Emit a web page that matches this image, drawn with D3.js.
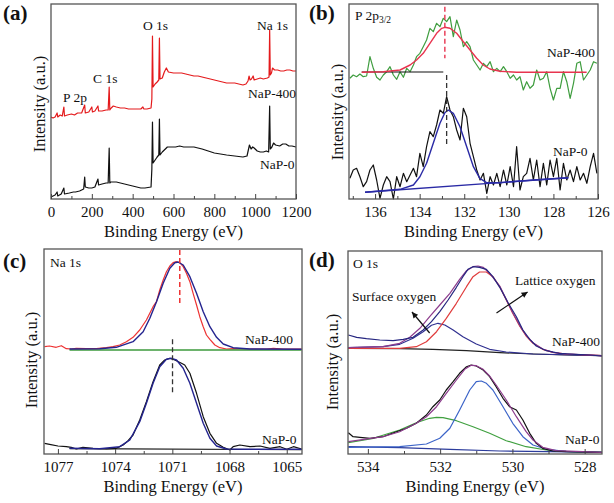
<!DOCTYPE html>
<html><head><meta charset="utf-8">
<script src="https://cdn.jsdelivr.net/npm/d3@7"></script>
<style>
body{margin:0;background:#fff}
text{font-family:"Liberation Serif","Times New Roman",serif;fill:#111}
</style>
</head><body>
<script>
// ---------- (a) survey ----------
var surveyTicks = [0, 200, 400, 600, 800, 1000, 1200];
var surveyNaP400 = [[0,82],[10,81],[20,82],[30,86],[33,82],[45,84],[55,83],[63,92],[66,83],[80,84],[100,85],[115,84],[130,86],[150,86],[165,94],[168,86],[185,87],[200,92],[203,87],[215,88],[230,93],[233,88],[250,88],[270,89],[280,89],[285,112],[288,89],[295,91],[305,93],[320,92],[340,91],[360,91],[380,90],[400,90],[420,90],[440,90],[450,92],[455,90],[470,90],[490,91],[494,100],[497,163],[500,112],[510,115],[520,117],[528,119],[531,161],[534,120],[545,121],[555,127],[565,131],[575,127],[600,126],[620,126],[640,126],[660,125],[680,124],[700,123],[720,123],[740,122],[760,121],[780,120],[800,119],[820,118],[840,117],[860,116],[880,116],[900,116],[920,115],[940,114],[955,115],[965,118],[970,123],[975,119],[982,120],[990,123],[995,119],[1010,120],[1025,121],[1040,120],[1060,121],[1068,122],[1071,169],[1074,124],[1080,126],[1085,131],[1095,129],[1110,129],[1125,128],[1140,128],[1155,129],[1170,129],[1185,128],[1200,128]];
var surveyNaP0 = [[0,2],[10,3],[20,4],[30,7],[33,3],[50,5],[63,11],[66,5],[90,6],[110,7],[120,7],[140,8],[160,10],[165,22],[168,12],[185,11],[200,11],[215,12],[230,20],[233,14],[250,15],[270,16],[280,16],[285,51],[288,16],[292,17],[305,17],[320,17],[340,16],[360,15],[380,14],[400,13],[420,12],[440,11],[460,11],[490,12],[494,30],[497,77],[500,36],[510,39],[520,42],[528,44],[531,80],[534,44],[545,47],[555,49],[570,52],[590,52],[610,52],[630,53],[650,52],[670,52],[690,52],[700,52],[720,51],[740,50],[770,48],[800,46],[830,45],[860,44],[900,43],[940,42],[960,43],[972,54],[980,50],[988,52],[995,51],[1010,48],[1025,47],[1040,47],[1055,48],[1066,47],[1071,93],[1074,50],[1082,52],[1090,56],[1100,54],[1120,53],[1135,55],[1150,55],[1165,53],[1180,53],[1200,52]];

// ---------- (b) P 2p3/2 ----------
var p2pTicks = [136, 134, 132, 130, 128, 126];
var p2pEnergy = [137.13,136.98,136.83,136.68,136.53,136.38,136.23,136.08,135.93,135.78,
  135.63,135.48,135.33,135.18,135.03,134.88,134.73,134.58,134.43,134.28,
  134.14,133.99,133.84,133.69,133.54,133.39,133.24,133.09,132.94,132.79,
  132.64,132.49,132.34,132.19,132.04,131.89,131.74,131.59,131.44,131.29,
  131.14,130.99,130.84,130.69,130.54,130.39,130.24,130.09,129.94,129.79,
  129.65,129.50,129.35,129.20,129.05,128.90,128.75,128.60,128.45,128.30,
  128.15,128.00,127.85,127.70,127.55,127.40,127.25,127.10,126.95,126.80,
  126.65,126.50,126.35,126.20,126.05];
var p2pNaP400 = [120.7,124,122.3,125,122.3,123,142.3,130.7,121.7,119,
  124,127.3,132.3,124,119.7,127.3,121.7,130.7,127.3,134,
  142.3,145.7,152.3,159,170.7,167.3,175.7,172.3,180.7,177.3,
  182.3,162.3,179,169,152.3,157.3,152.3,139,134,129,
  135.7,132.3,137.3,127.3,130.7,127.3,132.3,127.3,120.7,124,
  119,122.3,109,117.3,110.7,114,129,119,120.7,127.3,
  110.7,99,110.7,110.7,127.3,117.3,100.7,115.7,135.7,137.3,
  119,124,129,137.3,135.7];
var p2pNaP0 = [20.7,29,30.7,22.3,12.3,17.3,29,34,19,0.7,
  14,22.3,17.3,0,22.3,12.3,25.7,17.3,24,30.7,
  22.3,45.7,32.3,52.3,67.3,62.3,74,89,85.7,102.3,
  89,82.3,69,59,90.7,82.3,55.7,42.3,29,19,
  25.7,5.7,22.3,14,25.7,12.3,29,14,32.3,12.3,
  52.3,9,22.3,25.7,40.7,19,39,12.3,35.7,14,
  39,22.3,40.7,9,35.7,19,29,17.3,32.3,19,
  25.7,15.7,32.3,45.7,25.7];
var p2pFit400 = [[136.60,126.7],[135.63,127.3],[134.88,129],[134.43,134],[134.14,139],[133.84,145.7],[133.54,155.7],[133.24,165.7],[133.01,170.7],[132.87,171.7],[132.64,170.7],[132.34,165.7],[132.04,157.3],[131.74,149],[131.44,140.7],[131.15,134],[130.85,130],[130.40,127.7],[129.65,126.7],[126.51,126.7]];
var p2pBg400 = [[136.60,127],[132.94,127]];
var p2pFit0 = [[136.45,6.7],[134.88,9.7],[134.28,14],[133.99,22.3],[133.69,35.7],[133.39,55.7],[133.09,75.7],[132.87,86.3],[132.72,89],[132.49,85.7],[132.19,72.3],[131.89,52.3],[131.59,32.3],[131.30,20.7],[131.00,16.3],[130.40,16.3],[128.90,19],[127.33,21.3]];
var p2pBg0 = [[136.45,6.7],[127.33,21.3]];

// ---------- (c) Na 1s ----------
var na1sTicks = [1077, 1074, 1071, 1068, 1065];
var na1sNaP400 = [[1077.70,107.3],[1077.44,108],[1077.09,106.7],[1076.82,108.3],[1076.56,105.3],[1076.30,105],[1076.04,105.7],[1075.51,105.3],[1074.99,105.3],[1074.46,106.3],[1074.11,107.3],[1073.76,109],[1073.41,112.3],[1073.06,116.7],[1072.71,124],[1072.36,134],[1072.01,147.3],[1071.83,152.3],[1071.66,164],[1071.48,174],[1071.31,182.3],[1071.13,188],[1070.96,191.3],[1070.78,192.3],[1070.61,191.3],[1070.43,187.3],[1070.26,180.7],[1070.08,172.3],[1069.91,160.7],[1069.73,149],[1069.56,137.3],[1069.38,127.3],[1069.21,119],[1069.03,114.7],[1068.77,109],[1068.51,106.3],[1068.16,105],[1067.81,105.3],[1066.93,105],[1066.05,105],[1065.70,105.7],[1065.18,105],[1064.22,105]];
var na1sFit400 = [[1076.39,105],[1074.81,105.3],[1073.94,106.7],[1073.06,112.3],[1072.53,122.3],[1072.18,135.7],[1071.83,152.3],[1071.48,170.7],[1071.13,185.7],[1070.87,191.3],[1070.70,192],[1070.43,189],[1070.08,177.3],[1069.73,160.7],[1069.38,142.3],[1069.03,127.3],[1068.68,116.7],[1068.33,110],[1067.81,106.3],[1066.93,105],[1064.22,104.7]];
var na1sBg400 = [[1076.39,104],[1064.22,104]];
var na1sNaP0 = [[1077.70,10.7],[1077.44,9.7],[1077.00,8],[1076.56,7.3],[1076.30,6.7],[1076.04,5],[1075.69,6.7],[1075.16,5.7],[1074.46,5],[1073.94,5.7],[1073.58,9],[1073.32,13.3],[1073.06,19],[1072.71,34],[1072.36,52.3],[1072.01,72.3],[1071.66,89],[1071.40,94],[1071.13,95.7],[1070.87,94],[1070.52,90.7],[1070.35,89],[1070.08,80.7],[1069.73,60.7],[1069.38,37.3],[1069.03,20.7],[1068.68,10.7],[1068.33,6.7],[1067.98,4],[1067.81,7.3],[1067.46,9],[1066.93,7.3],[1066.40,8],[1065.88,5.7],[1065.35,7.3],[1065.00,4.7],[1064.65,7.3],[1064.22,5]];
var na1sFit0 = [[1076.39,5.7],[1074.81,5.3],[1073.76,7.3],[1073.23,14],[1072.71,32.3],[1072.36,50.7],[1072.01,70.7],[1071.66,87.3],[1071.31,94.7],[1071.05,95.7],[1070.78,94],[1070.43,85.7],[1070.08,70.7],[1069.73,50.7],[1069.38,30.7],[1069.03,15.7],[1068.68,8],[1068.16,5],[1066.93,4.7],[1064.22,4.7]];
var na1sBg0 = [[1076.39,5.3],[1064.22,4.3]];

// ---------- (d) O 1s ----------
var o1sTicks = [534, 532, 530, 528];
var o1sNaP400 = [[534.54,119],[534.31,116.7],[534.04,115.3],[533.67,114],[533.30,113.3],[533.02,114.7],[532.75,116.7],[532.47,124],[532.24,132.3],[532.01,142.3],[531.78,154],[531.55,166.7],[531.37,177.3],[531.23,184.7],[531.09,187.3],[530.91,186.7],[530.72,184.7],[530.54,177.3],[530.35,166.7],[530.12,151.3],[529.89,137.3],[529.71,124],[529.52,114.7],[529.34,108],[529.06,103.3],[528.70,100.7],[528.24,99.7],[527.87,99],[527.52,98]];
var o1sEnv400 = [[534.54,106.3],[533.58,107.3],[533.12,110.7],[532.84,116.7],[532.56,125.7],[532.29,137.3],[532.01,149],[531.73,160.7],[531.46,174.7],[531.27,183.3],[531.09,187.3],[530.95,188],[530.81,186.7],[530.63,180.7],[530.35,168],[530.17,154.7],[529.99,141.3],[529.80,128.7],[529.62,118.7],[529.43,111.3],[529.16,105],[528.88,101.7],[528.51,100],[527.52,98.3]];
var o1sLat400 = [[534.54,105.7],[533.12,105.7],[532.66,107.3],[532.38,112.3],[532.10,122.3],[531.83,135.7],[531.55,150.7],[531.27,167.3],[531.09,177.3],[530.91,182],[530.72,182],[530.54,177.3],[530.35,167.3],[530.17,154],[529.99,140.7],[529.80,128],[529.62,118],[529.43,110.7],[529.16,104.7],[528.88,101.7],[528.51,100],[527.52,98.3]];
var o1sSurf400 = [[534.54,106.3],[533.58,107.3],[533.12,109.7],[532.75,115.7],[532.47,122.3],[532.24,128.7],[532.06,130.7],[531.87,129],[531.64,124],[531.37,117.3],[531.00,110],[530.63,104.7],[530.17,102],[529.43,100],[527.52,98.3]];
var o1sBg400 = [[534.54,105.7],[533.12,105.3],[532.20,104.7],[531.27,103.3],[530.35,101.3],[529.43,100],[528.51,99],[527.52,98.3]];
var o1sNaP0 = [[534.54,21.3],[534.41,17.3],[534.22,16.7],[533.94,15.7],[533.58,17.3],[533.21,22.3],[532.93,25.7],[532.66,30.7],[532.38,39],[532.20,47.3],[532.01,54],[531.83,64],[531.64,72.3],[531.46,80.7],[531.27,87.3],[531.14,89],[531.00,88],[530.81,84],[530.63,77.3],[530.45,67.3],[530.26,55.7],[530.08,47.3],[529.89,44],[529.71,34],[529.52,20.7],[529.34,10.7],[529.16,5.7],[528.88,3],[528.51,2.3],[527.52,1.7]];
var o1sEnv0 = [[534.54,12.3],[533.58,17.3],[533.12,22.3],[532.66,30.7],[532.38,37.3],[532.10,47.3],[531.83,60.7],[531.55,74],[531.32,84.7],[531.14,88.7],[531.00,88.3],[530.81,84.7],[530.63,78],[530.45,69],[530.17,54],[529.89,37.3],[529.62,22.3],[529.43,14],[529.16,6.7],[528.79,3.3],[527.52,1.7]];
var o1sSurf0 = [[534.54,11.3],[533.85,15.7],[533.12,24],[532.66,31.3],[532.29,35.7],[532.10,36.7],[531.92,36.3],[531.55,33.3],[531.09,27.3],[530.63,20.7],[530.17,13.3],[529.62,7.3],[529.06,4],[528.51,2.7],[527.52,1.7]];
var o1sLat0 = [[534.54,6.7],[533.12,7.3],[532.38,10],[532.01,15.7],[531.73,25.7],[531.46,44],[531.18,64],[531.00,72.3],[530.86,73],[530.72,70.7],[530.54,64],[530.26,47.3],[529.99,30.7],[529.71,17.3],[529.43,9],[529.06,4.7],[528.51,2.7],[527.52,1.7]];
var o1sBg0 = [[534.54,7.3],[533.12,6.3],[531.73,4.7],[530.35,3],[528.97,2.3],[527.52,1.7]];

var svg = d3.select("body").append("svg").attr("width", 614).attr("height", 503);

function panel(o) {
  var x = d3.scaleLinear().domain(o.xd).range([o.l, o.r]);
  var y = d3.scaleLinear().domain(o.yd).range([o.b, o.t]);
  var g = svg.append("g");
  var line = d3.line().x(function(d){ return x(d[0]); }).y(function(d){ return y(d[1]); });

  o.series.forEach(function(s){
    g.append("path").attr("d", line(s.data))
      .attr("fill", "none").attr("stroke", s.c)
      .attr("stroke-width", s.w || 1.2)
      .attr("stroke-dasharray", s.dash || null)
      .attr("stroke-linejoin", "round");
  });

  (o.arrows || []).forEach(function(a){
    var x1 = x(a[0][0]), y1 = y(a[0][1]), x2 = x(a[1][0]), y2 = y(a[1][1]);
    var ang = Math.atan2(y2 - y1, x2 - x1);
    g.append("line").attr("x1", x1).attr("y1", y1).attr("x2", x2).attr("y2", y2)
      .attr("stroke", "#111").attr("stroke-width", 1.2);
    var h = 6, w = 3;
    var p = [[x2, y2],
      [x2 - h*Math.cos(ang) + w*Math.sin(ang), y2 - h*Math.sin(ang) - w*Math.cos(ang)],
      [x2 - h*Math.cos(ang) - w*Math.sin(ang), y2 - h*Math.sin(ang) + w*Math.cos(ang)]];
    g.append("path").attr("d", "M" + p.join("L") + "Z").attr("fill", "#111");
  });

  g.append("rect").attr("x", o.l).attr("y", o.t)
    .attr("width", o.r - o.l).attr("height", o.b - o.t)
    .attr("fill", "none").attr("stroke", "#555").attr("stroke-width", 1.3);

  var ax = g.append("g").attr("transform", "translate(0," + o.b + ")")
    .call(d3.axisBottom(x).tickValues(o.ticks).tickSize(-5).tickPadding(7).tickFormat(d3.format("d")));
  ax.select(".domain").remove();
  ax.selectAll("line").attr("stroke", "#444");
  ax.selectAll("text").style("font-size", "15px").style("font-family", "Liberation Serif, serif").attr("fill", "#111");
  var mx = g.append("g").attr("transform", "translate(0," + o.b + ")")
    .call(d3.axisBottom(x).tickValues(o.minor).tickSize(-3).tickFormat(""));
  mx.select(".domain").remove();
  mx.selectAll("line").attr("stroke", "#444");

  g.append("text").attr("x", (o.l + o.r) / 2).attr("y", o.b + 38)
    .attr("text-anchor", "middle").style("font-size", "16.5px").text("Binding Energy (eV)");
  g.append("text").attr("transform", "translate(" + o.yt[0] + "," + o.yt[1] + ") rotate(-90)")
    .attr("text-anchor", "middle").style("font-size", "16.5px").text("Intensity (a.u.)");
  g.append("text").attr("x", o.tag[0]).attr("y", o.tag[1])
    .style("font-size", "21px").style("font-weight", "bold").text(o.tag[2]);

  o.labels.forEach(function(t){
    var tx = g.append("text").attr("x", t[0]).attr("y", t[1]).style("font-size", "13.5px");
    if (t[3]) {
      tx.append("tspan").text(t[2]);
      tx.append("tspan").attr("dy", 3).style("font-size", "9.5px").text(t[3]);
    } else tx.text(t[2]);
  });
}

panel({
  l: 51, r: 296, t: 4, b: 199, xd: [0, 1200], yd: [0, 195],
  ticks: surveyTicks, minor: [100, 300, 500, 700, 900, 1100],
  yt: [45, 104], tag: [3, 20, "(a)"],
  series: [
    {data: surveyNaP400, c: "#e41a1c"},
    {data: surveyNaP0, c: "#111"}
  ],
  labels: [[143, 30, "O 1s"], [257, 30, "Na 1s"], [93, 83, "C 1s"], [63, 102, "P 2p"], [248, 98, "NaP-400"], [260, 169, "NaP-0"]]
});

panel({
  l: 349, r: 598, t: 4, b: 199, xd: [137.17, 126.0], yd: [0, 195],
  ticks: p2pTicks, minor: [137, 135, 133, 131, 129, 127],
  yt: [343, 112], tag: [309, 20, "(b)"],
  series: [
    {data: d3.zip(p2pEnergy, p2pNaP400), c: "#3f9d3f"},
    {data: p2pBg400, c: "#111"},
    {data: p2pFit400, c: "#e8344f", w: 1.4},
    {data: [[132.87, 192.3], [132.87, 140.7]], c: "#e8344f", w: 1.4, dash: "5,3"},
    {data: d3.zip(p2pEnergy, p2pNaP0), c: "#111"},
    {data: p2pBg0, c: "#2a2aa5", w: 1.4},
    {data: p2pFit0, c: "#2a2aa5", w: 1.4},
    {data: [[132.79, 124], [132.79, 52.3]], c: "#333", w: 1.3, dash: "5,3"}
  ],
  labels: [[355, 20, "P 2p", "3/2"], [547, 57, "NaP-400"], [553, 156, "NaP-0"]]
});

panel({
  l: 44, r: 302, t: 249, b: 454, xd: [1077.73, 1064.2], yd: [0, 205],
  ticks: na1sTicks, minor: [1075.5, 1072.5, 1069.5, 1066.5],
  yt: [37, 360], tag: [3, 268, "(c)"],
  series: [
    {data: na1sNaP400, c: "#ee3333"},
    {data: na1sBg400, c: "#3c9a3c", w: 1.4},
    {data: na1sFit400, c: "#24248f", w: 1.4},
    {data: [[1070.61, 204], [1070.61, 149]], c: "#ee3333", w: 1.5, dash: "5,3"},
    {data: na1sBg0, c: "#111"},
    {data: na1sNaP0, c: "#111"},
    {data: na1sFit0, c: "#24248f", w: 1.4},
    {data: [[1070.99, 114.7], [1070.99, 60.7]], c: "#333", w: 1.3, dash: "5,3"}
  ],
  labels: [[50, 267, "Na 1s"], [245, 344, "NaP-400"], [262, 444, "NaP-0"]]
});

panel({
  l: 348, r: 602, t: 251, b: 454, xd: [534.55, 527.52], yd: [0, 203],
  ticks: o1sTicks, minor: [533, 531, 529],
  yt: [338, 362], tag: [309, 267, "(d)"],
  series: [
    {data: o1sBg400, c: "#222"},
    {data: o1sSurf400, c: "#303090"},
    {data: o1sLat400, c: "#e03c3c"},
    {data: o1sEnv400, c: "#8c3c8c"},
    {data: o1sNaP400, c: "#262680"},
    {data: o1sBg0, c: "#2c3c9c"},
    {data: o1sSurf0, c: "#40a040"},
    {data: o1sLat0, c: "#3c64c8"},
    {data: o1sNaP0, c: "#111"},
    {data: o1sEnv0, c: "#8c3c8c"}
  ],
  arrows: [[[530.44, 141], [529.58, 162]], [[532.29, 121], [532.78, 142]]],
  labels: [[515, 285, "Lattice oxygen"], [352, 301, "Surface oxygen"], [353, 268, "O 1s"], [552, 346, "NaP-400"], [565, 444, "NaP-0"]]
});
</script>
</body></html>
